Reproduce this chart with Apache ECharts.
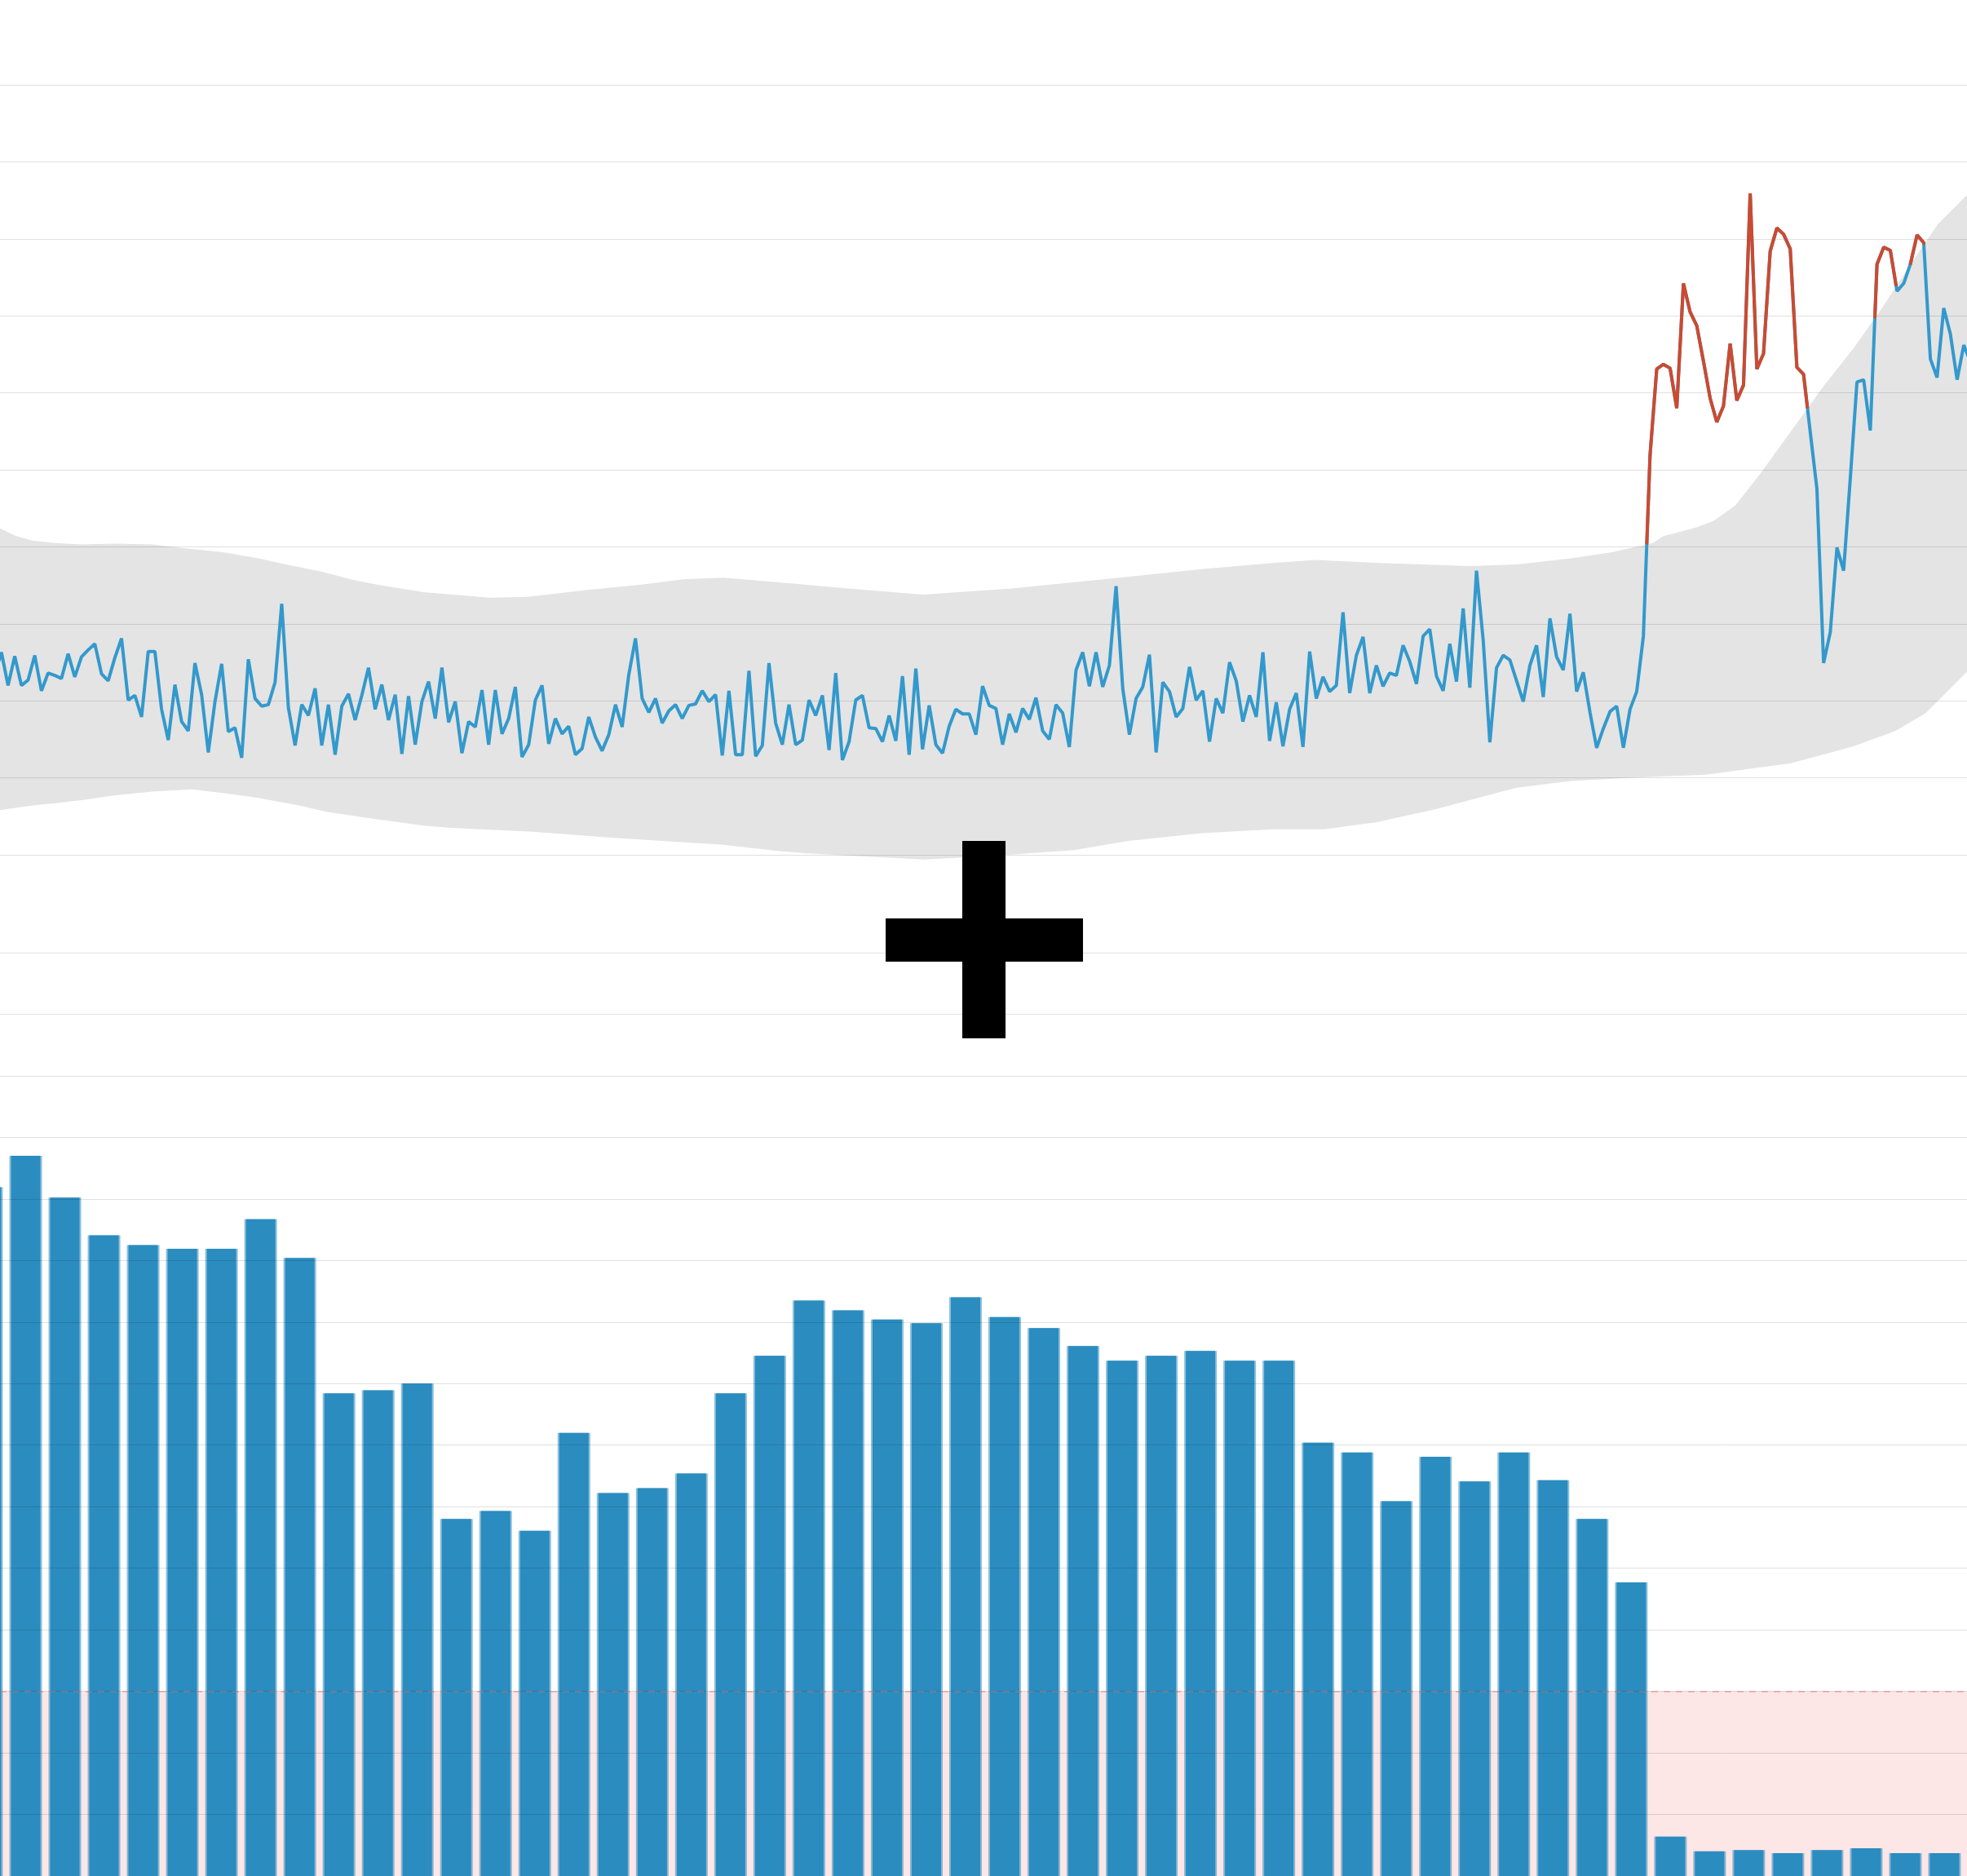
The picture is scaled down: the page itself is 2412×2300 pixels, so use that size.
<!DOCTYPE html>
<html>
<head>
<meta charset="utf-8">
<style>
  html, body { margin: 0; padding: 0; background: #ffffff; }
  #chart { width: 2412px; height: 2300px; }
</style>
<script src="https://cdn.jsdelivr.net/npm/echarts@6/dist/echarts.min.js"></script>
</head>
<body>
<div id="chart"></div>
<script>
// ---------------- data ----------------
// line: daily values, first point has index -1
const lineStart = -1;
const lineValues = [
  23.4,
  26.3, 22.0, 25.8, 22.0, 22.7, 25.9, 21.3, 23.6, 23.3, 22.9,
  26.1, 23.1, 25.7, 26.6, 27.4, 23.5, 22.6, 25.6, 28.1, 20.1,
  20.7, 17.9, 26.4, 26.4, 18.9, 14.9, 22.1, 17.3, 16.1, 24.9,
  20.8, 13.3, 19.9, 24.8, 16.0, 16.5, 12.6, 25.4, 20.3, 19.3,
  19.5, 22.4, 32.6, 19.1, 14.2, 19.5, 18.1, 21.6, 14.2, 19.5,
  13.0, 19.3, 20.9, 17.5, 20.7, 24.3, 18.9, 22.1, 17.5, 20.8,
  13.1, 20.6, 14.3, 19.9, 22.5, 17.7, 24.3, 17.2, 19.9, 13.2,
  17.3, 16.6, 21.4, 14.3, 21.4, 15.7, 17.7, 21.8, 12.7, 14.3,
  20.1, 22.0, 14.4, 17.7, 15.7, 16.7, 13.0, 13.8, 17.9, 15.3,
  13.5, 15.6, 19.5, 16.6, 23.4, 28.1, 20.3, 18.5, 20.3, 17.1,
  18.7, 19.5, 17.7, 19.4, 19.6, 21.3, 19.9, 20.8, 12.9, 21.3,
  13.0, 13.0, 23.9, 12.8, 14.2, 24.9, 17.1, 14.3, 19.5, 14.3,
  14.9, 20.1, 18.1, 20.7, 13.6, 23.6, 12.3, 14.7, 20.1, 20.7,
  16.5, 16.4, 14.7, 18.1, 14.8, 23.2, 13.0, 24.2, 13.7, 19.4,
  14.3, 13.2, 16.7, 18.9, 18.3, 18.3, 15.6, 21.9, 19.4, 19.0,
  14.3, 18.3, 15.9, 19.0, 17.6, 20.4, 16.1, 15.0, 19.5, 18.4,
  14.0, 24.0, 26.3, 21.9, 26.3, 21.8, 24.6, 34.9, 21.6, 15.6,
  20.3, 21.8, 26.0, 13.3, 22.4, 21.2, 17.9, 19.0, 24.4, 20.1,
  21.3, 14.7, 20.3, 18.4, 25.0, 22.6, 17.3, 20.7, 17.9, 26.3,
  14.8, 19.8, 14.1, 18.9, 21.0, 14.0, 26.4, 20.3, 23.1, 21.2,
  22.0, 31.5, 21.0, 25.9, 28.3, 21.0, 24.6, 21.9, 23.6, 23.3,
  27.2, 25.1, 22.2, 28.4, 29.3, 23.2, 21.3, 27.4, 22.5, 32.0,
  21.7, 36.9, 27.9, 14.6, 24.3, 25.9, 25.3, 22.6, 19.9, 24.6,
  27.2, 20.5, 30.7, 25.7, 24.0, 31.3, 21.2, 23.7, 18.5, 13.9,
  16.4, 18.6, 19.3, 13.9, 18.9, 21.2, 28.4, 51.9, 63.1, 63.7,
  63.2, 58.0, 74.2, 70.5, 68.7, 64.1, 59.3, 56.2, 58.3, 66.4,
  59.0, 61.0, 85.9, 63.1, 65.1, 78.4, 81.4, 80.6, 78.7, 63.3,
  62.4, 54.9, 47.5, 24.9, 28.9, 39.9, 36.9, 48.9, 61.4, 61.7,
  55.1, 76.7, 78.9, 78.5, 73.2, 74.2, 76.7, 80.5, 79.5, 64.4,
  62.0, 71.0, 67.6, 61.7, 66.2, 64.0
];

// confidence band (upper / lower edges), positions on the day index scale
const bandUpperIdx = [-5, -0.2, 2.2, 4.7, 8, 12, 16.9, 22.6, 27.5, 33.2, 38.5, 42.6, 47.8, 52.7, 56.8, 63.3, 73.1, 78.8, 87.8, 95.9, 102.4, 108.2, 116.2, 126.9, 138.1, 151.3, 167.5, 179.8, 190.4, 196.9, 206.6, 220.1, 227, 235.2, 241.3, 247.4, 249, 253.9, 256.6, 259.8, 263.6, 268.1, 273.1, 277.5, 281.9, 286.4, 290.2, 294.5, 300];
const bandUpperVal = [44.4, 42.4, 41.4, 40.8, 40.5, 40.3, 40.4, 40.3, 39.8, 39.3, 38.5, 37.7, 36.8, 35.7, 35.0, 34.1, 33.4, 33.5, 34.4, 35.1, 35.8, 36.0, 35.4, 34.6, 33.8, 34.6, 36.0, 37.1, 37.9, 38.3, 37.9, 37.5, 37.7, 38.5, 39.3, 40.5, 41.4, 42.5, 43.4, 45.4, 49.6, 55.0, 61.0, 65.8, 71.2, 77.2, 82.0, 85.7, 90.4];
const bandLowerIdx = [-5, -0.2, 4.7, 8, 12, 16.9, 22.6, 28.5, 34.4, 38.5, 44.6, 48.7, 54.8, 63.3, 67.4, 79.6, 91.8, 108.2, 116.2, 120.4, 126.9, 138.2, 147.3, 160.7, 168.8, 179.8, 190.4, 198.1, 205.9, 214.8, 227, 235.2, 244.2, 255.4, 268.1, 277.5, 283.8, 288.3, 294.5, 300];
const bandLowerVal = [5.2, 5.8, 6.4, 6.7, 7.1, 7.7, 8.2, 8.5, 7.9, 7.4, 6.4, 5.6, 4.8, 3.8, 3.5, 3.0, 2.2, 1.3, 0.5, 0.2, -0.1, -0.6, -0.2, 0.6, 1.8, 2.8, 3.3, 3.3, 4.2, 5.9, 8.7, 9.6, 10.0, 10.4, 11.9, 14.1, 16.1, 18.4, 23.8, 28.6];

// bars: weekly values (index 0 is the partly visible first week)
const barValues = [
  111.9, 117.0, 110.2, 104.1, 102.5, 101.9, 101.9, 106.7, 100.4, 78.4,
  78.9, 80.0, 58.0, 59.3, 56.1, 72.0, 62.2, 63.0, 65.4, 78.4,
  84.5, 93.5, 91.9, 90.4, 89.8, 94.0, 90.8, 89.0, 86.1, 83.7,
  84.5, 85.3, 83.7, 83.7, 70.4, 68.8, 60.9, 68.1, 64.1, 68.8,
  64.3, 58.0, 47.7, 6.4, 4.0, 4.2, 3.7, 4.2, 4.5, 3.7,
  3.7
];
const lowThreshold = 30;

// visible window of the two x scales
const lineWindow = [-0.2077, 294.484];
const barWindow = [0.344, 50.573];

// ---------------- derived ----------------
const lineData = lineValues.map((v, k) => [k + lineStart, v]);
const barData = barValues.map((v, i) => [i, v]);

function interp(xs, ys, x) {
  if (x <= xs[0]) return ys[0];
  for (let i = 1; i < xs.length; i++) {
    if (x <= xs[i]) {
      const t = (x - xs[i - 1]) / (xs[i] - xs[i - 1]);
      return ys[i - 1] + t * (ys[i] - ys[i - 1]);
    }
  }
  return ys[ys.length - 1];
}

// parts of the line that lie above the band's upper edge
const diffs = lineData.map(p => p[1] - interp(bandUpperIdx, bandUpperVal, p[0]));
function crossing(a, b, da, db) {
  const t = da / (da - db);
  return [a[0] + t * (b[0] - a[0]), a[1] + t * (b[1] - a[1])];
}
const redRuns = [];
let cur = null;
for (let k = 0; k < lineData.length; k++) {
  if (diffs[k] > 0) {
    if (!cur) {
      cur = [];
      if (k > 0) cur.push(crossing(lineData[k - 1], lineData[k], diffs[k - 1], diffs[k]));
    }
    cur.push(lineData[k]);
  } else if (cur) {
    cur.push(crossing(lineData[k - 1], lineData[k], diffs[k - 1], diffs[k]));
    redRuns.push(cur);
    cur = null;
  }
}
if (cur) redRuns.push(cur);

const gridLine = 'rgba(0,0,0,0.12)';
const LINE_W = 4;

const series = [
  {
    type: 'custom',
    xAxisIndex: 0, yAxisIndex: 0,
    z: 1,
    silent: true,
    data: [[0, 0]],
    renderItem: function (params, api) {
      const pts = [];
      for (let i = 0; i < bandUpperIdx.length; i++) pts.push(api.coord([bandUpperIdx[i], bandUpperVal[i]]));
      for (let i = bandLowerIdx.length - 1; i >= 0; i--) pts.push(api.coord([bandLowerIdx[i], bandLowerVal[i]]));
      return {
        type: 'polygon',
        shape: { points: pts },
        style: { fill: 'rgba(0,0,0,0.105)', stroke: null }
      };
    }
  },
  {
    type: 'line',
    xAxisIndex: 0, yAxisIndex: 0,
    z: 4,
    data: lineData,
    showSymbol: false,
    silent: true,
    lineStyle: { color: '#3399cc', width: LINE_W }
  }
];
redRuns.forEach(run => {
  series.push({
    type: 'line',
    xAxisIndex: 0, yAxisIndex: 0,
    z: 5,
    data: run,
    showSymbol: false,
    silent: true,
    lineStyle: { color: '#cc4a30', width: LINE_W }
  });
});
series.push({
  type: 'bar',
  xAxisIndex: 1, yAxisIndex: 1,
  z: 2,
  barWidth: 40,
  silent: true,
  data: barData,
  itemStyle: { color: 'rgba(44,140,191,0.55)' }
});
series.push({
  type: 'bar',
  xAxisIndex: 2, yAxisIndex: 1,
  z: 2,
  barWidth: 36,
  silent: true,
  data: barData,
  itemStyle: { color: '#2b8cbf' },
  markArea: {
    silent: true,
    itemStyle: { color: 'rgba(245,108,108,0.17)' },
    data: [[{ yAxis: 0 }, { yAxis: lowThreshold }]]
  },
  markLine: {
    silent: true,
    symbol: 'none',
    label: { show: false },
    lineStyle: { color: 'rgba(225,110,110,0.55)', type: [8, 7], width: 1.5 },
    data: [{ yAxis: lowThreshold }]
  }
});

const hiddenAxis = {
  axisLine: { show: false }, axisTick: { show: false }, axisLabel: { show: false }, splitLine: { show: false }
};

const option = {
  animation: false,
  backgroundColor: '#ffffff',
  grid: [
    { left: 0, right: 0, top: 104, bottom: 1252 },
    { left: 0, right: 0, top: 1168, bottom: 0 }
  ],
  xAxis: [
    Object.assign({ type: 'value', gridIndex: 0, min: lineWindow[0], max: lineWindow[1] }, hiddenAxis),
    Object.assign({ type: 'value', gridIndex: 1, min: barWindow[0], max: barWindow[1] }, hiddenAxis),
    Object.assign({ type: 'value', gridIndex: 1, min: barWindow[0], max: barWindow[1] }, hiddenAxis)
  ],
  yAxis: [
    {
      type: 'value', gridIndex: 0, min: 0, max: 100, interval: 10, z: 3,
      axisLine: { show: false }, axisTick: { show: false }, axisLabel: { show: false },
      splitLine: { show: true, lineStyle: { color: gridLine, width: 1 } }
    },
    {
      type: 'value', gridIndex: 1, min: 0, max: 150, interval: 10, z: 3,
      axisLine: { show: false }, axisTick: { show: false }, axisLabel: { show: false },
      splitLine: { show: true, lineStyle: { color: gridLine, width: 1 } }
    }
  ],
  graphic: [
    { type: 'rect', z: 100, silent: true, shape: { x: 1180, y: 1031, width: 53, height: 242 }, style: { fill: '#000000' } },
    { type: 'rect', z: 100, silent: true, shape: { x: 1086, y: 1126, width: 242, height: 53 }, style: { fill: '#000000' } }
  ],
  series: series
};

const chart = echarts.init(document.getElementById('chart'), null, { renderer: 'canvas' });
chart.setOption(option);
</script>
</body>
</html>
